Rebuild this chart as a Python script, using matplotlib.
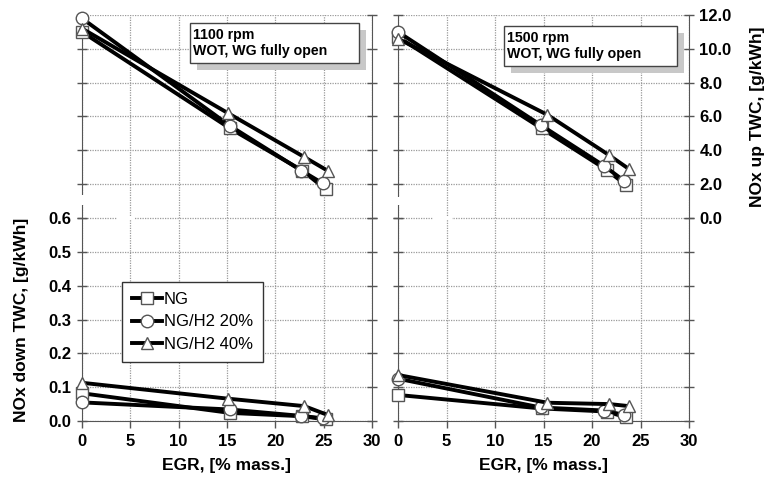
import matplotlib
matplotlib.use("Agg")
import matplotlib.pyplot as plt
from matplotlib.patches import Rectangle
import numpy as np

plt.rcParams["font.family"] = ["Liberation Sans", "DejaVu Sans"]

# ---------------- data ----------------
series_names = ["NG", "NG/H2 20%", "NG/H2 40%"]
series_markers = ["s", "o", "^"]

# 1100 rpm
egr_1100_ng = [0, 15.3, 22.8, 25.2]
egr_1100_h20 = [0, 15.3, 22.7, 24.9]
egr_1100_h40 = [0, 15.1, 23.0, 25.4]
up_1100_ng = [11.0, 5.3, 2.8, 1.7]
up_1100_h20 = [11.8, 5.45, 2.8, 2.05]
up_1100_h40 = [11.2, 6.2, 3.6, 2.8]
down_1100_ng = [0.082, 0.024, 0.014, 0.005]
down_1100_h20 = [0.055, 0.034, 0.015, 0.008]
down_1100_h40 = [0.113, 0.066, 0.044, 0.018]

# 1500 rpm
egr_1500_ng = [0, 14.8, 21.5, 23.5]
egr_1500_h20 = [0, 14.7, 21.2, 23.3]
egr_1500_h40 = [0, 15.4, 21.8, 23.8]
up_1500_ng = [10.7, 5.3, 2.85, 1.95]
up_1500_h20 = [11.0, 5.5, 3.1, 2.2]
up_1500_h40 = [10.6, 6.1, 3.7, 2.9]
down_1500_ng = [0.077, 0.037, 0.028, 0.011]
down_1500_h20 = [0.125, 0.040, 0.031, 0.018]
down_1500_h40 = [0.136, 0.054, 0.050, 0.044]

x_ticks = [0, 5, 10, 15, 20, 25, 30]
down_ticks = [0.0, 0.1, 0.2, 0.3, 0.4, 0.5, 0.6]
up_ticks = [0.0, 2.0, 4.0, 6.0, 8.0, 10.0, 12.0]

panels = [
    ("1100 rpm\nWOT, WG fully open",
     [egr_1100_ng, egr_1100_h20, egr_1100_h40],
     [up_1100_ng, up_1100_h20, up_1100_h40],
     [down_1100_ng, down_1100_h20, down_1100_h40]),
    ("1500 rpm\nWOT, WG fully open",
     [egr_1500_ng, egr_1500_h20, egr_1500_h40],
     [up_1500_ng, up_1500_h20, up_1500_h40],
     [down_1500_ng, down_1500_h20, down_1500_h40]),
]

# ---------------- layout (pixels -> figure fraction) ----------------
W, H = 767, 482
fig = plt.figure(figsize=(W / 100, H / 100), dpi=100)

x_left = [82, 398]
x_right = [372, 689]
y_bot, y_mid, y_top = 421, 218, 15

spine_col = "#555555"
grid_kw = dict(color="#9a9a9a", linestyle=(0, (1, 1)), linewidth=0.9)
tick_kw = dict(direction="inout", length=7, width=1, color=spine_col,
               labelsize=12)

box_pos = [(0.372, 0.764, 0.583, 0.197), (0.364, 0.749, 0.595, 0.197)]

for i, (note, xs, ups, downs) in enumerate(panels):
    x0 = x_left[i] / W
    w = (x_right[i] - x_left[i]) / W
    ax_lo = fig.add_axes([x0, (H - y_bot) / H, w, (y_bot - y_mid) / H])
    ax_up = fig.add_axes([x0, (H - y_mid) / H, w, (y_mid - y_top) / H])

    # lower: NOx down TWC
    ax_lo.set_xlim(0, 30)
    ax_lo.set_ylim(0, 0.6)
    ax_lo.set_xticks(x_ticks)
    ax_lo.set_yticks(down_ticks)
    ax_lo.set_yticklabels(["%.1f" % v for v in down_ticks])
    ax_lo.grid(True, **grid_kw)
    ax_lo.tick_params(axis="both", which="both", **tick_kw, pad=4,
                      left=True, right=True, labelleft=(i == 0),
                      labelright=False)
    ax_lo.tick_params(axis="x", direction="out", length=5)
    for lab in ax_lo.get_xticklabels() + ax_lo.get_yticklabels():
        lab.set_fontweight("bold")
    ax_lo.spines["top"].set_visible(False)
    for s in ["left", "right", "bottom"]:
        ax_lo.spines[s].set_color(spine_col)
    ax_lo.set_xlabel("EGR, [% mass.]", fontsize=12.5, fontweight="bold",
                     labelpad=7)
    if i == 0:
        ax_lo.set_ylabel("NOx down TWC, [g/kWh]", fontsize=12.5,
                         fontweight="bold", labelpad=14)

    # upper: NOx up TWC
    ax_up.set_xlim(0, 30)
    ax_up.set_ylim(0, 12)
    ax_up.set_xticks(x_ticks)
    ax_up.set_yticks(up_ticks)
    ax_up.set_yticklabels(["%.1f" % v for v in up_ticks])
    ax_up.grid(True, **grid_kw)
    ax_up.tick_params(axis="y", **tick_kw, pad=4, left=True, right=True,
                      labelleft=False, labelright=(i == 1))
    ax_up.tick_params(axis="x", length=0, labelbottom=False)
    for lab in ax_up.get_yticklabels():
        lab.set_fontweight("bold")
    ax_up.spines["top"].set_visible(False)
    ax_up.spines["bottom"].set_visible(False)
    for s in ["left", "right"]:
        ax_up.spines[s].set_color(spine_col)
    if i == 1:
        ax_up.yaxis.set_label_position("right")
        ax_up.set_ylabel("NOx up TWC, [g/kWh]", fontsize=12.5,
                         fontweight="bold", labelpad=13)

    for k in range(3):
        style = dict(color="black", linewidth=2.8, marker=series_markers[k],
                     markersize=9, markerfacecolor="white",
                     markeredgecolor="#555555", markeredgewidth=1,
                     clip_on=False, zorder=3)
        ax_lo.plot(xs[k], downs[k], label=series_names[k], **style)
        ax_up.plot(xs[k], ups[k], **style)

    # annotation box with drop shadow
    bx, by, bw, bh = box_pos[i]
    ax_up.add_patch(Rectangle((bx + 0.024, by - 0.035), bw, bh,
                              transform=ax_up.transAxes, facecolor="#c8c8c8",
                              edgecolor="none", zorder=4))
    ax_up.add_patch(Rectangle((bx, by), bw, bh, transform=ax_up.transAxes,
                              facecolor="white", edgecolor="#444444",
                              linewidth=1, zorder=5))
    ax_up.text(bx + 0.012, by + bh / 2, note, transform=ax_up.transAxes,
               fontsize=10.2, fontweight="bold", va="center", ha="left",
               linespacing=1.2, zorder=6)

    if i == 0:
        leg = ax_lo.legend(loc="upper left", bbox_to_anchor=(0.138, 0.685),
                           fontsize=12, frameon=True, fancybox=False,
                           framealpha=1, edgecolor="#333333",
                           handlelength=1.8, handletextpad=0.1,
                           labelspacing=0.45, borderpad=0.6,
                           borderaxespad=0)
        leg.get_frame().set_linewidth(1)
        for line in leg.get_lines():
            line.set_linewidth(2.8)

# small gaps where the two charts were joined in the original figure
gaps = [(79, 195, 7, 10), (395, 197, 7, 8), (117, 216, 18, 4), (433, 216, 19, 4)]
for gx, gy, gw, gh in gaps:
    fig.patches.append(Rectangle((gx / W, (H - gy - gh) / H), gw / W, gh / H,
                                 transform=fig.transFigure, facecolor="white",
                                 edgecolor="none", zorder=10))

fig.savefig("out.png", dpi=100)
